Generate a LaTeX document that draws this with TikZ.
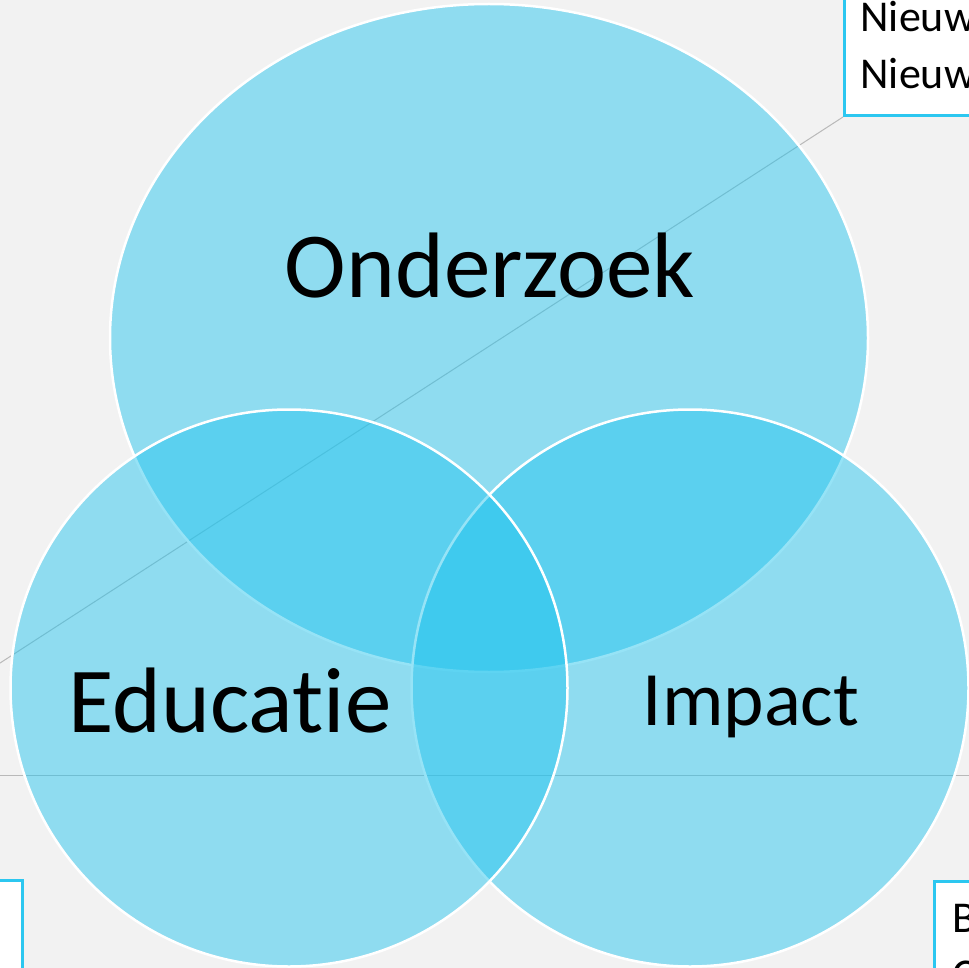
\documentclass[tikz,border=0pt]{standalone}
\usepackage{fontspec}
\setmainfont{Carlito}[Ligatures=NoCommon]
\usetikzlibrary{shapes.geometric,positioning}
\pgfdeclarelayer{backdrop}
\pgfdeclarelayer{leaders}
\pgfsetlayers{backdrop,leaders,main}
\definecolor{vennblue}{RGB}{34,196,238}
\definecolor{boxblue}{RGB}{44,199,240}
\definecolor{paper}{RGB}{242,242,242}
\definecolor{leadergray}{RGB}{185,185,185}
\tikzstyle{venn} = [draw=white, line width=2.5pt, fill=vennblue,
    fill opacity=0.475, inner sep=0pt]
\tikzstyle{callout} = [rectangle, draw=boxblue, line width=3pt, fill=white,
    align=left, font=\fontsize{44}{57}\selectfont]
\tikzstyle{setname} = [anchor=base, inner sep=0pt, text=black]
\tikzstyle{leader} = [draw=leadergray, line width=1pt]

\begin{document}
\begin{tikzpicture}[x=1pt,y=-1pt]
  \begin{pgfonlayer}{backdrop}
    \fill[paper] (0,0) rectangle (969,968);
  \end{pgfonlayer}
  \useasboundingbox (0,0) rectangle (969,968);

  % the three sets
  \node[venn,ellipse,minimum width=758pt,minimum height=668pt] (onderzoek) at (489,338) {};
  \node[venn,circle,minimum size=557pt] (impact)   at (690,688) {};
  \node[venn,circle,minimum size=557pt] (educatie) at (289,688) {};

  \node[setname,font=\fontsize{93}{110}\selectfont] (onderzoektxt) at (490,298) {Onderzoek};
  \node[setname,font=\fontsize{93}{110}\selectfont] (educatietxt)  at (230,732) {Educatie};
  \node[setname,font=\fontsize{77}{92}\selectfont]  (impacttxt)    at (751,725) {Impact};

  % callouts
  \node[callout,anchor=south west,inner xsep=16pt,inner ysep=27pt] (nieuwbox) at (843,117) {Nieuw\\Nieuw};
  \node[callout,anchor=north west,inner xsep=18pt,inner ysep=23pt] (bcbox) at (933,880) {B\\C};
  \node[callout,anchor=north east,minimum width=120pt,minimum height=150pt] (leftbox) at (24,879) {};

  \coordinate (diagend) at (-20,676);
  \coordinate (hleft)   at (0,775);
  \coordinate (hright)  at (969,775);
  \begin{pgfonlayer}{leaders}
    \draw[leader] (nieuwbox.south west) -- (diagend);
    \draw[leader] (hleft) -- (hright);
  \end{pgfonlayer}
\end{tikzpicture}
\end{document}
